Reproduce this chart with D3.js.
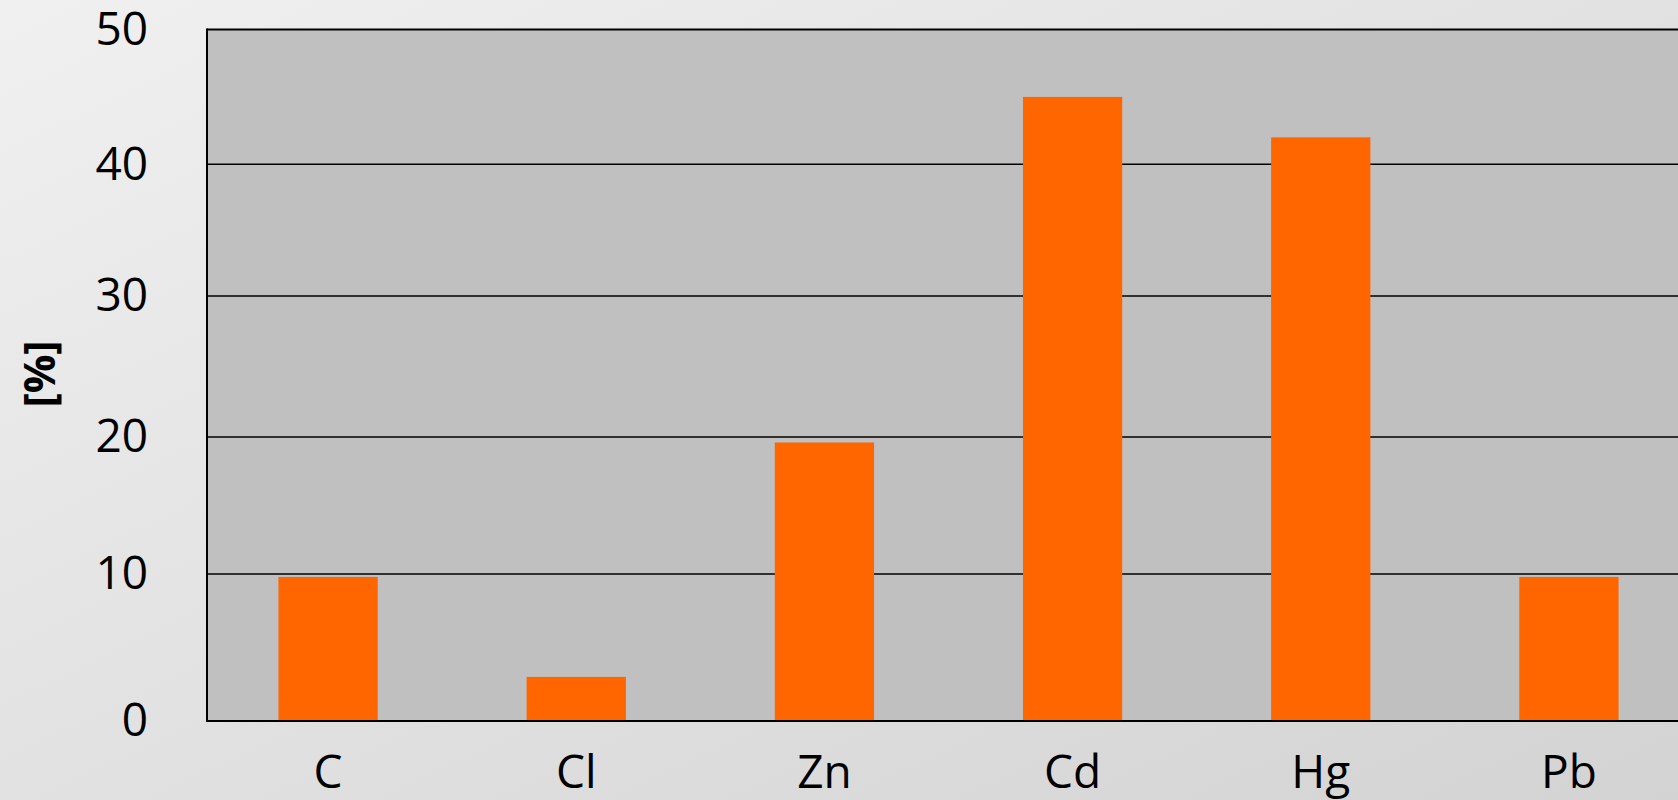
<!DOCTYPE html>
<html lang="en">
<head>
<meta charset="UTF-8">
<title>[%]</title>
<script src="https://d3js.org/d3.v7.min.js"></script>
<style>
  body { margin: 0; overflow: hidden; }
  svg { display: block; }
  text { font-family: "Open Sans", "Noto Sans", sans-serif; fill: #000; }
</style>
</head>
<body>
<div id="chart"></div>
<script>
// data
var elements = ["C", "Cl", "Zn", "Cd", "Hg", "Pb"];
var percent  = [9.8, 3.0, 19.6, 45.0, 42.0, 9.8];
var yTicks   = [0, 10, 20, 30, 40, 50];
var yLabel   = "[%]";

var width = 1678, height = 800;
var plotLeft = 207, plotTop = 29.5, plotBottom = 721;

var svg = d3.select("#chart").append("svg")
    .attr("width", width)
    .attr("height", height);

// background gradient
var grad = svg.append("defs").append("linearGradient")
    .attr("id", "bg").attr("x1", 0).attr("y1", 0).attr("x2", 1).attr("y2", 1);
grad.append("stop").attr("offset", "0%").attr("stop-color", "#f0f0f0");
grad.append("stop").attr("offset", "100%").attr("stop-color", "#d3d3d3");
svg.append("rect").attr("width", width).attr("height", height).attr("fill", "url(#bg)");

// the gridlines in the picture are not quite evenly spaced, so the scale follows them
var y = d3.scaleLinear()
    .domain(yTicks)
    .range([721, 574, 437, 296, 164.3, 29.5]);

var x = d3.scaleBand()
    .domain(elements)
    .range([204, 1693])
    .paddingInner(0.6)
    .paddingOuter(0.3);

// plot area
svg.append("rect")
    .attr("x", plotLeft).attr("y", plotTop)
    .attr("width", width - plotLeft + 20).attr("height", plotBottom - plotTop)
    .attr("fill", "#c0c0c0");

// gridlines
svg.append("g")
    .selectAll("line")
    .data(yTicks.filter(function(d) { return d > 0 && d < 50; }))
    .join("line")
    .attr("x1", plotLeft).attr("x2", width)
    .attr("y1", function(d) { return y(d); })
    .attr("y2", function(d) { return y(d); })
    .attr("stroke", "#000")
    .attr("stroke-width", 1.6);

// bars
svg.append("g")
    .selectAll("rect")
    .data(elements)
    .join("rect")
    .attr("x", function(d) { return x(d); })
    .attr("width", x.bandwidth())
    .attr("y", function(d, i) { return y(percent[i]); })
    .attr("height", function(d, i) { return y(0) - y(percent[i]); })
    .attr("fill", "#ff6600");

// frame: top, left, bottom
var frame = svg.append("g").attr("stroke", "#000").attr("stroke-width", 2);
frame.append("line").attr("x1", plotLeft).attr("x2", width).attr("y1", plotTop).attr("y2", plotTop);
frame.append("line").attr("x1", plotLeft).attr("x2", plotLeft).attr("y1", plotTop - 1).attr("y2", plotBottom + 1);
frame.append("line").attr("x1", plotLeft).attr("x2", width).attr("y1", plotBottom).attr("y2", plotBottom);

// y axis labels
var yAxis = svg.append("g")
    .attr("transform", "translate(" + plotLeft + ",0)")
    .call(d3.axisLeft(y).tickValues(yTicks).tickSize(0).tickPadding(59).tickFormat(d3.format("d")));
yAxis.select(".domain").remove();
yAxis.selectAll("text")
    .attr("fill", "#000")
    .style("font-family", "'Open Sans', 'Noto Sans', sans-serif")
    .style("font-size", "46px");

// x axis labels
var xAxis = svg.append("g")
    .attr("transform", "translate(0," + plotBottom + ")")
    .call(d3.axisBottom(x).tickSize(0).tickPadding(34));
xAxis.select(".domain").remove();
xAxis.selectAll("text")
    .attr("fill", "#000")
    .style("font-family", "'Open Sans', 'Noto Sans', sans-serif")
    .style("font-size", "46px");

// y title
svg.append("text")
    .attr("transform", "translate(55,374) rotate(-90)")
    .attr("text-anchor", "middle")
    .style("font-size", "43px")
    .style("font-weight", "bold")
    .text(yLabel);
</script>
</body>
</html>
